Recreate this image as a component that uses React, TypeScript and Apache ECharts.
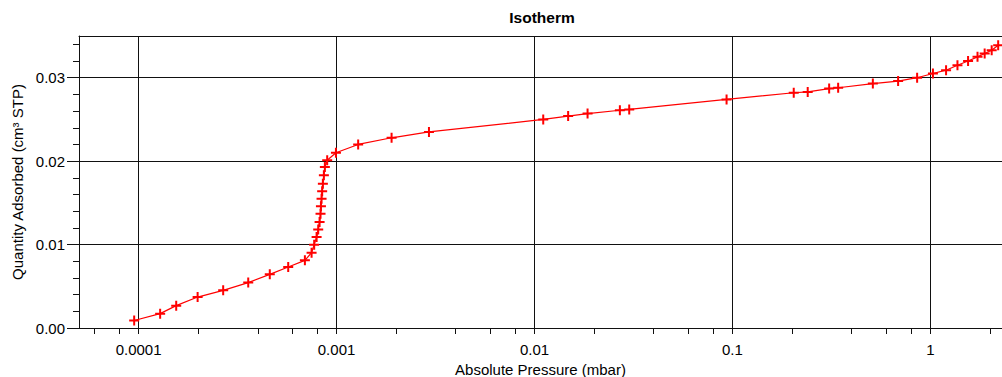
import React, { useEffect, useRef } from "react";
import * as echarts from "echarts";

const pressure = [
  9.5e-5, 1.285e-4, 1.549e-4, 1.987e-4, 2.675e-4, 3.58e-4, 4.6e-4, 5.7e-4, 6.92e-4,
  7.48e-4, 7.71e-4, 7.93e-4, 8.08e-4, 8.21e-4, 8.3e-4, 8.34e-4, 8.4e-4, 8.46e-4,
  8.53e-4, 8.63e-4, 8.73e-4, 8.97e-4, 9.93e-4, 1.286e-3, 1.897e-3, 2.93e-3,
  1.107e-2, 1.479e-2, 1.854e-2, 2.7e-2, 3.01e-2, 9.34e-2, 0.204, 0.24, 0.308,
  0.342, 0.512, 0.687, 0.857, 1.03, 1.2, 1.37, 1.55, 1.73, 1.88, 2.04, 2.2,
];
const quantity = [
  0.0009, 0.00172, 0.00268, 0.00371, 0.00451, 0.00544, 0.00643, 0.00731, 0.00811,
  0.00903, 0.00999, 0.0109, 0.0118, 0.0127, 0.0137, 0.0146, 0.0155, 0.0164,
  0.0173, 0.0183, 0.0193, 0.0201, 0.021, 0.022, 0.0228, 0.0235,
  0.025, 0.0254, 0.0257, 0.0261, 0.0262, 0.0274, 0.0282, 0.0283, 0.0287,
  0.0288, 0.0293, 0.0296, 0.03, 0.0305, 0.0309, 0.0315, 0.032, 0.0325, 0.0329, 0.0333, 0.0339,
];

const xTickValues = [0.0001, 0.001, 0.01, 0.1, 1];
const xTickLabels = ["0.0001", "0.001", "0.01", "0.1", "1"];
const xMinorTicks = [
  0.00006, 0.00008, 0.0002, 0.0004, 0.0006, 0.0008, 0.002, 0.004, 0.006, 0.008,
  0.02, 0.04, 0.06, 0.08, 0.2, 0.4, 0.6, 0.8, 2,
];
const yTickValues = [0, 0.01, 0.02, 0.03];
const yTickLabels = ["0.00", "0.01", "0.02", "0.03"];
const yMinorTicks = [
  0.002, 0.004, 0.006, 0.008, 0.012, 0.014, 0.016, 0.018, 0.022, 0.024, 0.026,
  0.028, 0.032, 0.034,
];

const FONT = "'Liberation Sans', Arial, sans-serif";
const LINE = "#111";
const RED = "#ff0000";

const findLabel = (vals: number[], labels: string[], v: number, log: boolean) => {
  const i = vals.findIndex((t) =>
    log ? Math.abs(Math.log10(t) - Math.log10(v)) < 1e-6 : Math.abs(t - v) < 1e-9
  );
  return i >= 0 ? labels[i] : "";
};

export default function App() {
  const ref = useRef<HTMLDivElement>(null);
  useEffect(() => {
    if (!ref.current) return;
    const chart = echarts.init(ref.current, undefined, { renderer: "svg" });
    const xMin = 0.00005;
    const xMax = 2.3;
    const yMin = 0;
    const yMax = 0.035;
    chart.setOption({
      animation: false,
      backgroundColor: "#fff",
      title: {
        text: "Isotherm",
        left: 542,
        top: 9,
        textAlign: "center",
        padding: 0,
        textStyle: { fontFamily: FONT, fontSize: 15.5, fontWeight: "bold", color: "#000" },
      },
      grid: {
        left: 79,
        right: 0,
        top: 36,
        bottom: 49,
        containLabel: false,
        outerBoundsMode: "none",
      },
      xAxis: [
        {
          type: "log",
          logBase: 10,
          min: xMin,
          max: xMax,
          position: "bottom",
          name: "Absolute Pressure (mbar)",
          nameLocation: "middle",
          nameGap: 32,
          nameTextStyle: { fontFamily: FONT, fontSize: 15, color: "#000" },
          axisLine: { show: true, lineStyle: { color: LINE, width: 1 } },
          axisTick: { show: true, customValues: xTickValues, length: 6, lineStyle: { color: LINE } },
          axisLabel: {
            customValues: xTickValues,
            formatter: (v: number) => findLabel(xTickValues, xTickLabels, v, true),
            fontFamily: FONT,
            fontSize: 15,
            color: "#000",
            margin: 14,
          },
          splitLine: { show: true, lineStyle: { color: LINE, width: 1 } },
          minorTick: { show: false },
        },
        {
          type: "log",
          logBase: 10,
          min: xMin,
          max: xMax,
          position: "bottom",
          axisLine: { show: false },
          axisTick: { show: true, customValues: xMinorTicks, length: 6, lineStyle: { color: LINE } },
          axisLabel: { show: false },
          splitLine: { show: false },
        },
        {
          type: "value",
          min: 0,
          max: 1,
          position: "top",
          axisLine: { show: true, lineStyle: { color: LINE, width: 1 } },
          axisTick: { show: false },
          axisLabel: { show: false },
          splitLine: { show: false },
        },
      ],
      yAxis: [
        {
          type: "value",
          min: yMin,
          max: yMax,
          interval: 0.01,
          position: "left",
          name: "Quantity Adsorbed (cm³ STP)",
          nameLocation: "middle",
          nameGap: 52,
          nameTextStyle: { fontFamily: FONT, fontSize: 15, color: "#000" },
          axisLine: { show: true, lineStyle: { color: LINE, width: 1 } },
          axisTick: { show: true, customValues: yTickValues, length: 12, lineStyle: { color: LINE } },
          axisLabel: {
            customValues: yTickValues,
            formatter: (v: number) => findLabel(yTickValues, yTickLabels, v, false),
            fontFamily: FONT,
            fontSize: 15,
            color: "#000",
            margin: 14,
          },
          splitLine: { show: true, lineStyle: { color: LINE, width: 1 } },
        },
        {
          type: "value",
          min: yMin,
          max: yMax,
          interval: 0.01,
          position: "left",
          axisLine: { show: false },
          axisTick: { show: true, customValues: yMinorTicks, length: 6, lineStyle: { color: LINE } },
          axisLabel: { show: false },
          splitLine: { show: false },
        },
      ],
      series: [
        {
          type: "line",
          xAxisIndex: 0,
          yAxisIndex: 0,
          data: pressure.map((p, i) => [p, quantity[i]]),
          symbol: "path://M3.6,0 h1.8 v3.6 h3.6 v1.8 h-3.6 v3.6 h-1.8 v-3.6 h-3.6 v-1.8 h3.6 z",
          symbolSize: 10,
          showSymbol: true,
          showAllSymbol: true,
          itemStyle: { color: RED },
          lineStyle: { color: RED, width: 1.2 },
          smooth: false,
        },
      ],
    });
    return () => chart.dispose();
  }, []);
  return (
    <div
      ref={ref}
      style={{ position: "fixed", left: 0, top: 0, width: 1002, height: 377 }}
    />
  );
}
